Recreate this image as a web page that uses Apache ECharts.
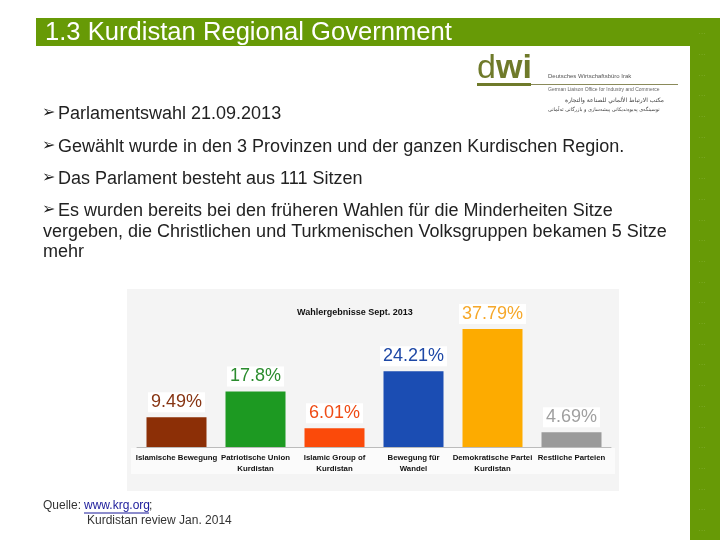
<!DOCTYPE html>
<html>
<head>
<meta charset="utf-8">
<script src="https://cdn.jsdelivr.net/npm/echarts@6/dist/echarts.min.js"></script>
<style>
  html, body { margin: 0; padding: 0; background: #fff; }
  #main { width: 720px; height: 540px; }
</style>
</head>
<body>
<div id="main"></div>
<script>
// Daten
var parteien = ["Islamische Bewegung", "Patriotische Union\nKurdistan", "Islamic Group of\nKurdistan", "Bewegung für\nWandel", "Demokratische Partei\nKurdistan", "Restliche Parteien"];
var prozent = [9.49, 17.8, 6.01, 24.21, 37.79, 4.69];
var balkenFarben = ["#8c2f06", "#1d9a22", "#fb4a0a", "#1b4db3", "#fdab00", "#9a9a9a"];
var textFarben = ["#873513", "#2b8c2e", "#ef4b14", "#1e48a6", "#f6a82a", "#a0a0a0"];
var aufzaehlung = [
  "Parlamentswahl 21.09.2013",
  "Gewählt wurde in den 3 Provinzen und der ganzen Kurdischen Region.",
  "Das Parlament besteht aus 111 Sitzen",
  "Es wurden bereits bei den früheren Wahlen für die Minderheiten Sitze"
];

var gruen = "#679a06";
var chart = echarts.init(document.getElementById("main"));
var schrift = "'Liberation Sans', Arial";

var extra = [];
var ys = [115, 148, 180, 212];
aufzaehlung.forEach(function (t, i) {
  extra.push({
    type: "text", left: 42, top: ys[i] - 10,
    style: { text: "➢", font: "bold 16px 'DejaVu Sans'", fill: "#222" }
  });
  extra.push({
    type: "text", left: 58, top: ys[i] - 10,
    style: { text: t, font: "18px " + schrift, fill: "#222" }
  });
});
extra.push({
  type: "text", left: 43, top: 222,
  style: { text: "vergeben, die Christlichen und Turkmenischen Volksgruppen bekamen 5 Sitze\nmehr", font: "18px " + schrift, fill: "#222", lineHeight: 20 }
});
// Punkte im grünen Rand
for (var k = 0; k < 25; k++) {
  extra.push({
    type: "text", left: 698, top: 30 + k * 20.7,
    style: { text: "···", font: "8px " + schrift, fill: "#7eaa2a" }
  });
}

chart.setOption({
  animation: false,
  grid: { left: 137, right: 109, top: 322, height: 125 },
  xAxis: {
    type: "category",
    data: parteien,
    axisTick: { show: false },
    axisLine: { lineStyle: { color: "#bbb", width: 1 } },
    axisLabel: {
      interval: 0, margin: 5, color: "#111",
      fontSize: 7.8, fontWeight: "bold", fontFamily: schrift,
      lineHeight: 11, overflow: "none"
    }
  },
  yAxis: { type: "value", min: 0, max: 40, show: false, splitLine: { show: false } },
  series: [{
    type: "bar",
    barWidth: 60,
    data: prozent.map(function (v, i) {
      return {
        value: v,
        itemStyle: { color: balkenFarben[i] },
        label: { color: textFarben[i] }
      };
    }),
    label: {
      show: true, position: "top", distance: 5,
      formatter: function (p) { return p.value + "%"; },
      fontSize: 18, fontFamily: schrift,
      backgroundColor: "#fff", padding: [1, 3]
    }
  }],
  graphic: [
    // Chart-Hintergrund
    { type: "rect", z: -10, shape: { x: 127, y: 289, width: 492, height: 202 }, style: { fill: "#f4f4f4" } },
    { type: "rect", z: -9, shape: { x: 131, y: 448, width: 484, height: 26 }, style: { fill: "#fbfbfb" } },
    { type: "text", left: 297, top: 308, style: { text: "Wahlergebnisse Sept. 2013", font: "bold 9px " + schrift, fill: "#111" } },
    // Titelbalken
    { type: "rect", shape: { x: 36, y: 18, width: 684, height: 28 }, style: { fill: gruen } },
    { type: "rect", shape: { x: 690, y: 18, width: 30, height: 522 }, style: { fill: gruen } },
    { type: "text", left: 45, top: 20, style: { text: "1.3 Kurdistan Regional Government", font: "25.6px " + schrift, fill: "#fff" } },
    // Logo
    { type: "text", left: 477, top: 52, style: { text: "d", font: "34px " + schrift, fill: "#6f7a2a" } },
    { type: "text", left: 496, top: 52, style: { text: "wi", font: "bold 34px " + schrift, fill: "#6f7a2a" } },
    { type: "rect", shape: { x: 477, y: 83, width: 54, height: 3 }, style: { fill: "#6f7a2a" } },
    { type: "line", shape: { x1: 531, y1: 84.5, x2: 678, y2: 84.5 }, style: { stroke: "#8a8a5a", lineWidth: 1 } },
    { type: "text", left: 548, top: 73, style: { text: "Deutsches Wirtschaftsbüro Irak", font: "6px " + schrift, fill: "#555" } },
    { type: "text", left: 548, top: 87, style: { text: "German Liaison Office for Industry and Commerce", font: "5px " + schrift, fill: "#666" } },
    { type: "text", left: 565, top: 97, style: { text: "مكتب الارتباط الألماني للصناعة والتجارة", font: "6px 'DejaVu Sans'", fill: "#444" } },
    { type: "text", left: 548, top: 107, style: { text: "نوسینگەی پەیوەندیکانی پیشەسازی و بازرگانی ئەڵمانی", font: "5px 'DejaVu Sans'", fill: "#444" } },
    // Quelle
    { type: "text", left: 43, top: 500, style: { text: "Quelle:", font: "12px " + schrift, fill: "#333" } },
    { type: "text", left: 84, top: 500, style: { text: "www.krg.org", font: "12px " + schrift, fill: "#1a1a9a" } },
    { type: "line", shape: { x1: 84, y1: 513, x2: 149, y2: 513 }, style: { stroke: "#1a1a9a", lineWidth: 1 } },
    { type: "text", left: 149, top: 500, style: { text: ";", font: "12px " + schrift, fill: "#333" } },
    { type: "text", left: 87, top: 515, style: { text: "Kurdistan review Jan. 2014", font: "12px " + schrift, fill: "#333" } }
  ].concat(extra)
});
</script>
</body>
</html>
